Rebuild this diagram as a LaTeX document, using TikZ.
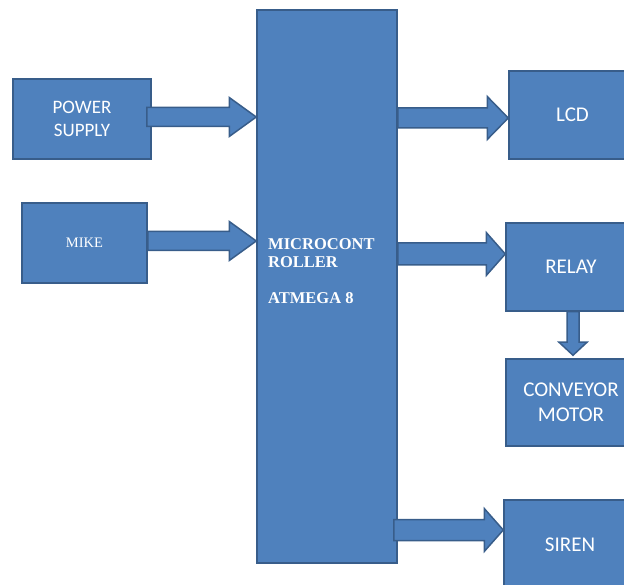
\documentclass[tikz,border=0pt]{standalone}
\usepackage{fontspec}
\newfontfamily\calibri{Carlito}
\newfontfamily\timesf{Liberation Serif}
\usetikzlibrary{calc, positioning}

\definecolor{boxblue}{HTML}{4F81BD}
\definecolor{boxedge}{HTML}{385D8A}

\tikzset{
  block/.style={draw=boxedge, fill=boxblue, line width=1.5pt, text=white,
    inner sep=0pt, align=center},
  blockarrow/.style={draw=boxedge, fill=boxblue, line width=1.5pt, line join=miter},
}

% horizontal block arrow: #1 head length, #2 shaft half width, #3 head half width
\newcommand{\harrow}[5]{%
  \draw[blockarrow] let \p1=#4, \p2=#5 in
    (\x1,\y2+#2pt) -- (\x2-#1pt,\y2+#2pt) -- (\x2-#1pt,\y2+#3pt) -- (\x2,\y2)
    -- (\x2-#1pt,\y2-#3pt) -- (\x2-#1pt,\y2-#2pt) -- (\x1,\y2-#2pt) -- cycle;}
% downward block arrow
\newcommand{\varrow}[2]{%
  \draw[blockarrow] let \p1=#1, \p2=#2 in
    (\x2-6pt,\y1) -- (\x2-6pt,\y2+13pt) -- (\x2-14pt,\y2+13pt) -- (\x2,\y2)
    -- (\x2+14pt,\y2+13pt) -- (\x2+6pt,\y2+13pt) -- (\x2+6pt,\y1) -- cycle;}

\begin{document}
\begin{tikzpicture}[x=1pt, y=-1pt]
  \clip (0,0) rectangle (624,585);
  \useasboundingbox (0,0) rectangle (624,585);

  % blocks
  \node (mcu) [block, minimum width=140pt, minimum height=553pt] at (327,286.5) {};
  \node (mcutext) [anchor=north west, inner sep=0pt, text=white, align=left,
    font=\timesf\bfseries\fontsize{16.5}{18}\selectfont] at (268,238)
    {MICROCONT\\ROLLER\\[18pt]ATMEGA 8};
  \node (pwr) [block, minimum width=138pt, minimum height=80pt,
    font=\calibri\fontsize{19}{23}\selectfont] at (82,119) {POWER\\SUPPLY};
  \node (mike) [block, minimum width=125pt, minimum height=80pt,
    font=\timesf\fontsize{14.5}{17}\selectfont] at (84.5,243) {MIKE};
  \node (lcd) [block, minimum width=127pt, minimum height=88pt,
    font=\calibri\fontsize{21}{25}\selectfont] at (572.5,115) {LCD};
  \node (relay) [block, minimum width=130pt, minimum height=88pt,
    font=\calibri\fontsize{21}{25}\selectfont] at (571,267) {RELAY};
  \node (conv) [block, minimum width=130pt, minimum height=87pt,
    font=\calibri\fontsize{21}{25}\selectfont] at (571,402.5) {CONVEYOR\\MOTOR};
  \node (siren) [block, minimum width=132pt, minimum height=90pt,
    font=\calibri\fontsize{21}{25}\selectfont] at (570,545) {SIREN};

  % arrows
  \harrow{27}{9.5}{19.5}{($(pwr.east)+(-5,-2)$)}{(mcu.west |- {$(pwr.east)+(0,-2)$})}
  \harrow{27}{9.5}{19.5}{($(mike.east)+(0,-2)$)}{(mcu.west |- {$(mike.east)+(0,-2)$})}
  \harrow{21}{10}{21.5}{(mcu.east)}{($(lcd.west)+(0,3)$)}
  \harrow{19}{11}{21.5}{(mcu.east)}{($(relay.west)+(0,-13)$)}
  \harrow{19}{10.5}{21.5}{($(mcu.east)+(-4,0)$)}{($(siren.west)+(0,-15)$)}
  \varrow{($(relay.south)+(2,0)$)}{($(conv.north)+(2,-3)$)}
\end{tikzpicture}
\end{document}
